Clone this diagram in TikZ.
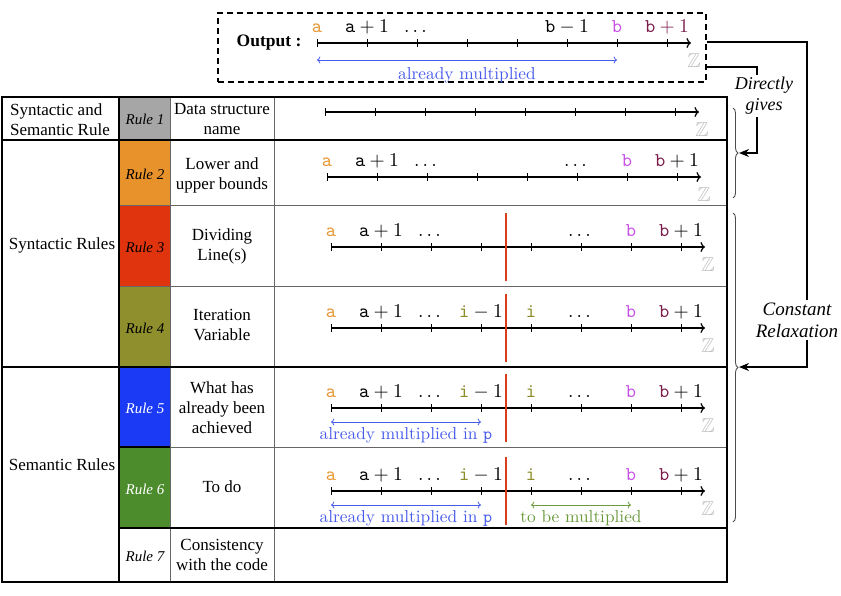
\documentclass[tikz,border=0pt]{standalone}
\usepackage{amsmath, amssymb}
\usepackage{fontspec}
\newfontfamily\timesfont{Liberation Serif}
\usetikzlibrary{arrows.meta, positioning, calc, decorations.pathreplacing}

\definecolor{rulegray}{RGB}{166, 166, 166}
\definecolor{ruleorange}{RGB}{232, 146, 44}
\definecolor{rulered}{RGB}{224, 52, 14}
\definecolor{ruleolive}{RGB}{143, 143, 46}
\definecolor{ruleblue}{RGB}{26, 58, 245}
\definecolor{rulegreen}{RGB}{76, 140, 44}
\definecolor{divred}{RGB}{214, 62, 28}
\definecolor{lbla}{RGB}{232, 150, 50}
\definecolor{lblb}{RGB}{200, 80, 230}
\definecolor{lblbp}{RGB}{122, 28, 74}
\definecolor{lbli}{RGB}{140, 140, 40}
\definecolor{multblue}{RGB}{70, 90, 235}
\definecolor{multgreen}{RGB}{106, 154, 60}

\tikzset{
  thickline/.style={line width=2.6pt},
  thinline/.style={line width=1pt, draw=black!60},
  cell/.style={font=\timesfont\fontsize{17}{20}\selectfont, align=center, inner sep=0pt},
  rulename/.style={font=\timesfont\itshape\fontsize{15}{18}\selectfont, inner sep=0pt},
  axisline/.style={line width=1.2pt, -{To[length=4.5pt, width=10pt]}},
  numlbl/.style={anchor=base, inner sep=0pt},
  zlbl/.style={text=black!25, inner sep=0pt},
  divider/.style={draw=divred, line width=2.4pt},
  span/.style={<->, line width=0.8pt},
  spanlbl/.style={anchor=base, inner sep=0pt},
  bigbrace/.style={decorate, decoration={brace, amplitude=5pt}, line width=0.9pt, draw=black!70},
  link/.style={line width=1.6pt},
  note/.style={font=\timesfont\itshape\fontsize{19}{22}\selectfont, align=center, inner sep=2pt},
}

% coloured values above the ticks
\newcommand{\tka}{{\color{lbla}\mathtt{a}}}
\newcommand{\tkb}{{\color{lblb}\mathtt{b}}}
\newcommand{\tkbn}{{\color{lblbp}\mathtt{b}}+1}
\newcommand{\tkbo}{{\color{lblbp}\mathtt{b}+1}}
\newcommand{\tki}{{\color{lbli}\mathtt{i}}}
\newcommand{\spantext}[1]{\scalebox{1.73}{#1}}

% axis: name, x of the first tick, y of the line
\newcommand{\zaxis}[3]{%
  \draw[axisline] (#2,#3) -- (#2+374,#3) coordinate (#1-end);
  \foreach \k in {0,...,7}{
    \coordinate (#1-\k) at (#2+\k*50,#3);
    \draw[line width=0.7pt] (#2+\k*50,#3-4) -- (#2+\k*50,#3+4);
  }
  \node[zlbl] (#1-z) at (#2+377,#3+18) {\scalebox{2}{$\mathbb{Z}$}};
}
% labels: axis name, list of tick/label
\newcommand{\zlabels}[2]{%
  \foreach \k/\lab in {#2}
    \node[numlbl] at ($(#1-\k)+(0,-11)$) {\scalebox{1.95}{$\lab$}};
}

\begin{document}
\begin{tikzpicture}[x=1pt, y=-1pt]
  \useasboundingbox (0,0) rectangle (841,595);

  % rule cells
  \fill[rulegray]   (119,97)  rectangle (170,140);
  \fill[ruleorange] (119,140) rectangle (170,205);
  \fill[rulered]    (119,205) rectangle (170,286);
  \fill[ruleolive]  (119,286) rectangle (170,367);
  \fill[ruleblue]   (119,367) rectangle (170,447);
  \fill[rulegreen]  (119,447) rectangle (170,528);

  % grid
  \draw[thinline] (170,97) -- (170,582) (274,97) -- (274,582);
  \draw[thinline] (119,205) -- (727,205) (119,286) -- (727,286) (170,447) -- (727,447);
  \draw[thickline] (2,140) -- (727,140) (2,367) -- (727,367) (119,528) -- (727,528)
    (119,447) -- (170,447) (119,97) -- (119,582);
  \draw[thickline] (2,97) rectangle (727,582);

  \node[cell, align=left] (grp0) at (60,120) {Syntactic and\\Semantic Rule};
  \node[cell] (grp1) at (62,245) {Syntactic Rules};
  \node[cell] (grp2) at (62,465) {Semantic Rules};

  \foreach \r/\y/\c in {1/119/black, 2/174/black, 3/247/black, 4/328/black,
                        5/408/white, 6/489/white, 7/556/black}
    \node[rulename, text=\c] (rule\r) at (145,\y) {Rule \r};

  \node[cell] (desc1) at (222,119) {Data structure\\name};
  \node[cell] (desc2) at (222,175) {Lower and\\upper bounds};
  \node[cell] (desc3) at (222,246) {Dividing\\Line(s)};
  \node[cell] (desc4) at (222,325) {Iteration\\Variable};
  \node[cell] (desc5) at (222,408) {What has\\already been\\achieved};
  \node[cell] (desc6) at (222,487) {To do};
  \node[cell] (desc7) at (222,555) {Consistency\\with the code};

  % output
  \node[draw, dash pattern=on 6pt off 4pt, line width=1.6pt, minimum width=488pt,
        minimum height=69pt, inner sep=0pt] (out) at (462,47.5) {};
  \node[font=\timesfont\bfseries\fontsize{17.5}{20}\selectfont, inner sep=0pt] (outlbl) at (269,43) {Output :};
  \zaxis{o}{317}{43}
  \zlabels{o}{0/\tka, 1/\mathtt{a}+1, 2/\dots, 5/\mathtt{b}-1, 6/\tkb, 7/\tkbo}
  \draw[span, multblue] ($(o-0)+(0,17)$) -- ($(o-6)+(0,17)$);
  \node[spanlbl, text=multblue] (omult) at ($(o-3)+(0,36)$) {\spantext{already multiplied}};

  % rule 1 and 2
  \zaxis{r1}{325}{112}
  \zaxis{r2}{327}{177}
  \zlabels{r2}{0/\tka, 1/\mathtt{a}+1, 2/\dots, 5/\dots, 6/\tkb, 7/\tkbn}

  % rule 3
  \zaxis{r3}{331}{247}
  \zlabels{r3}{0/\tka, 1/\mathtt{a}+1, 2/\dots, 5/\dots, 6/\tkb, 7/\tkbn}
  \draw[divider] ($(r3-3)!.5!(r3-4)+(0,-34)$) -- ++(0,68);

  % rule 4
  \zaxis{r4}{331}{328}
  \zlabels{r4}{0/\tka, 1/\mathtt{a}+1, 2/\dots, 3/\tki-1, 4/\tki, 5/\dots, 6/\tkb, 7/\tkbn}
  \draw[divider] ($(r4-3)!.5!(r4-4)+(0,-34)$) -- ++(0,68);

  % rule 5
  \zaxis{r5}{331}{408}
  \zlabels{r5}{0/\tka, 1/\mathtt{a}+1, 2/\dots, 3/\tki-1, 4/\tki, 5/\dots, 6/\tkb, 7/\tkbn}
  \draw[divider] ($(r5-3)!.5!(r5-4)+(0,-34)$) -- ++(0,68);
  \draw[span, multblue] ($(r5-0)+(0,14)$) -- ($(r5-3)+(0,14)$);
  \node[spanlbl, text=multblue] (r5mult) at ($(r5-1)!.5!(r5-2)+(0,31)$) {\spantext{already multiplied in $\mathtt{p}$}};

  % rule 6
  \zaxis{r6}{331}{491}
  \zlabels{r6}{0/\tka, 1/\mathtt{a}+1, 2/\dots, 3/\tki-1, 4/\tki, 5/\dots, 6/\tkb, 7/\tkbn}
  \draw[divider] ($(r6-3)!.5!(r6-4)+(0,-34)$) -- ++(0,68);
  \draw[span, multblue] ($(r6-0)+(0,14)$) -- ($(r6-3)+(0,14)$);
  \node[spanlbl, text=multblue] (r6mult) at ($(r6-1)!.5!(r6-2)+(0,31)$) {\spantext{already multiplied in $\mathtt{p}$}};
  \draw[span, multgreen] ($(r6-4)+(0,14)$) -- ($(r6-6)+(0,14)$);
  \node[spanlbl, text=multgreen] (r6todo) at ($(r6-5)+(0,31)$) {\spantext{to be multiplied}};

  % braces and links
  \draw[bigbrace] (733,108) -- (733,198);
  \draw[bigbrace] (733,213) -- (733,522);
  \coordinate (b1tip) at (739,153);
  \coordinate (b2tip) at (739,367);

  \node[note] (relax) at (797,320) {Constant\\Relaxation};
  \node[note, font=\timesfont\itshape\fontsize{18}{21}\selectfont] (direct) at (764,96) {Directly\\gives};

  \draw[link] ([yshift=5.5pt]out.east) -| ([xshift=10pt]relax.north);
  \draw[link, -{Stealth[length=10pt, width=8pt]}] ([xshift=10pt]relax.south) |- (b2tip);
  \draw[link] ([yshift=-19.5pt]out.east) -| ([xshift=-7pt]direct.north);
  \draw[link, -{Stealth[length=10pt, width=8pt]}] ([xshift=-7pt]direct.south) |- (b1tip);
\end{tikzpicture}
\end{document}
